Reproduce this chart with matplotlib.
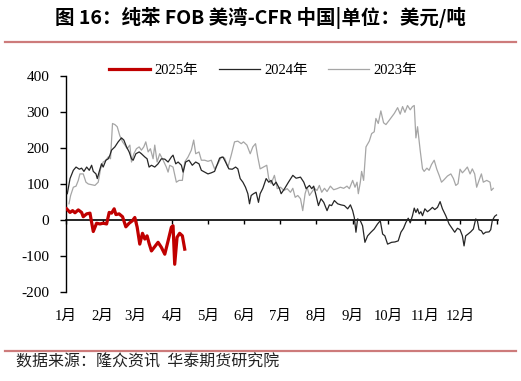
import numpy as np
import matplotlib
matplotlib.use('Agg')
import matplotlib.pyplot as plt
from matplotlib.lines import Line2D
import matplotlib.transforms as mtrans

plt.rcParams['font.family'] = ['Liberation Serif', 'Noto Sans CJK SC']
plt.rcParams['axes.unicode_minus'] = False

# 数据：日序号（从1月1日起） / 价差 美元/吨
d2025 = [0.5, 3.4, 5.6, 7.6, 10.4, 13.2, 14.6, 17.5, 20.3, 23.1, 25.9, 28.7, 31.5, 34.4,
         36.6, 38.6, 40.8, 42.3, 45, 47.9, 50.7, 53.5, 56.3, 58.3, 60.3, 62.5, 64.8, 66.8,
         68.7, 70.4, 72.4, 75.2, 78, 80.8, 83.7, 86.5, 89.3, 90.7, 92.1, 94.1, 96.3, 98.6,
         100.6]
v2025 = [31, 21, 26, 20, 28, 21, 9, 17, 19, -32, -9, -11, -9, -11,
         21, 19, 31, 15, 17, 9, -19, -9, -2, 7, -20, -67, -37, -53,
         -44, -65, -86, -74, -62, -76, -95, -58, -20, -16, -123, -48, -37, -44,
         -81]

d2024 = [1.1, 3.4, 6.2, 8.5, 11.3, 13.2, 15.2, 17.5, 19.7, 21.7, 23.1, 25.4, 26.5, 28.2,
         30.1, 31.5, 33.8, 35.8, 37.2, 38.6, 41.4, 44.2, 47, 49, 51.3, 53.5, 55.5, 56.9,
         59.2, 62, 63.9, 66.8, 68.7, 70.4, 72.4, 75.2, 78, 80.8, 83.7, 86.5, 89.3, 90.7,
         93, 95, 97.8, 99.2, 101.4, 104.2, 107, 109.9, 112.7, 114.7, 117.5, 120.3, 123.1,
         125.9, 127.9, 130.2, 133, 135.2, 138, 140.9, 143.7, 145.6, 147.6, 149.9, 152.1,
         154.1, 155.5, 156.9, 158.9, 161.1, 163.1, 164.5, 166.8, 169.6, 171.8, 173.8,
         175.8, 178, 180.9, 182.3, 185.2, 188.5, 192.2, 195, 198.7, 201.5, 203.5, 206.3,
         208.2, 209.9, 211.9, 213.9, 216.1, 218.4, 221.2, 223.2, 225.1, 227.4, 230.2,
         233, 235.9, 238.7, 241, 242.9, 244.3, 245.7, 247.1, 249.4, 251.3, 253.3, 255.6,
         258.4, 261.2, 264, 266.3, 268.3, 270.2, 272.5, 275.9, 278.7, 281.5, 283.8, 286,
         288, 290, 291.7, 293.6, 295.1, 296.5, 297.9, 299.3, 300.7, 302.1, 304.1, 306.3,
         308.6, 310.5, 312.5, 314.8, 317, 319, 321.8, 324.6, 327.5, 329.4, 331.7, 333.9,
         335.9, 337.3, 338.7, 340.7, 342.9, 345.2, 347.2, 348.6, 350, 352, 353.6, 355.6,
         358.5, 359.9, 361.2, 363.2, 364.8]
v2024 = [73, 115, 138, 147, 141, 144, 135, 147, 138, 152, 135, 128, 115, 135,
         156, 147, 166, 170, 180, 194, 203, 217, 228, 222, 203, 189, 170, 166,
         184, 189, 184, 175, 170, 147, 152, 147, 156, 170, 169, 161, 175, 180,
         156, 161, 152, 133, 161, 166, 152, 161, 156, 138, 133, 128, 131,
         135, 152, 172, 175, 161, 142, 141, 147, 142, 115, 105, 91,
         73, 45, 68, 73, 77, 49, 73, 88, 115, 105, 110,
         96, 105, 87, 73, 87, 105, 124, 116, 119, 105, 87, 96,
         87, 94, 68, 40, 59, 49, 26, 42, 40, 54, 45,
         42, 40, 31, 42, 26, 7, -34, 3, -2, -16, -62, -44,
         -34, -25, -11, -2, -39, -44, -67, -62, -61, -58, -34, -23,
         -7, 5, -8, 12, 33, 21, 31, 17, 23, 12, 31, 23,
         29, 35, 29, 35, 51, 31, 12, -11, -25, -34, -23, -27,
         -44, -72, -44, -39, -33, -25, 3, -2, -27, -30, -39, -34,
         -33, -27, -2, 10, 14]

d2023 = [2.5, 3.9, 6.2, 8.5, 10.4, 11.8, 14.6, 16.9, 18.9, 21.7, 24.5, 27.3, 29.3, 31.5,
         33.8, 35.8, 37.7, 39.4, 41.4, 43.4, 45.6, 47.9, 49.9, 51.8, 54.1, 55.5, 57.5,
         59.7, 62, 63.9, 65.9, 67.6, 69.6, 71.5, 73.8, 75.2, 77.2, 79.4, 82.3, 85, 86.5,
         87.9, 90.7, 93.5, 95.8, 98.6, 100.6, 103.4, 106.2, 108.2, 109.9, 112.7, 114.7,
         117.5, 120.3, 123.1, 125.9, 128.7, 131.6, 134.4, 137.2, 140, 142.8, 145.6, 148.5,
         150.4, 153.3, 156.1, 158.3, 160.6, 162.5, 164.5, 167.3, 170.1, 171.8, 173.8,
         176.6, 179, 181.8, 184.6, 187.4, 190.2, 192.2, 194.2, 196.4, 198.7, 200.6, 202.6,
         204.3, 206.3, 208.2, 210.5, 212.7, 214.7, 216.7, 219, 221.2, 224, 226.8, 229.7,
         232.5, 235.3, 238.1, 240.1, 242.9, 244.9, 246.6, 247.7, 249.4, 250.5, 252.2,
         254.2, 257, 259, 261.2, 262.6, 264.6, 266.8, 269.1, 271.1, 273.9, 278.2, 281,
         283.2, 285.2, 287.2, 289.4, 291.7, 293.6, 295.1, 296.5, 297.9, 300.1, 302.1,
         303.5, 305.8, 307.7, 309.7, 312, 314.2, 316.2, 318.2, 320.4, 323.2, 326.1, 328.3,
         330.3, 332.2, 333.9, 335.9, 337.9, 340.1, 342.4, 344.3, 346.3, 348, 350, 352,
         353.6, 356.5, 359.3, 360.4, 362.1]
v2023 = [45, 68, 91, 94, 110, 128, 128, 105, 100, 98, 96, 105, 142, 161,
         166, 175, 170, 268, 265, 259, 234, 217, 208, 198, 208, 161, 184,
         198, 203, 194, 203, 217, 189, 198, 170, 208, 161, 184, 166, 147, 133,
         152, 147, 105, 110, 110, 161, 175, 194, 222, 184, 189, 166,
         166, 163, 166, 142, 156, 175, 172, 147, 180, 217, 219, 212,
         217, 208, 184, 203, 212, 175, 142, 147, 152, 115, 101,
         124, 87, 91, 82, 87, 77, 88, 63, 68, 59, 26, 73,
         91, 68, 77, 88, 82, 96, 77, 88, 79, 94, 84, 87,
         91, 88, 94, 87, 110, 91, 105, 73, 105, 135, 110,
         203, 219, 240, 245, 282, 268, 303, 270, 265, 277, 296, 312,
         294, 315, 299, 318, 306, 315, 318, 228, 259, 194, 142,
         135, 144, 138, 154, 166, 141, 124, 105, 112, 122, 128, 115,
         96, 101, 141, 131, 138, 147, 128, 142, 128, 91, 110, 128,
         105, 110, 105, 82, 88]

month_start = [0, 31, 59, 90, 120, 151, 181, 212, 243, 273, 304, 334]
month_labels = ['1月', '2月', '3月', '4月', '5月', '6月', '7月', '8月', '9月', '10月', '11月', '12月']

fig = plt.figure(figsize=(5.21, 3.81), dpi=100)
ax = fig.add_axes([0.1267, 0.2336, 0.829, 0.567])

ax.plot(d2023, v2023, color='#a6a6a6', lw=0.9, label='2023年', zorder=2)
ax.plot(d2024, v2024, color='#262626', lw=0.9, label='2024年', zorder=3)
ax.plot(d2025, v2025, color='#c00000', lw=2.3, label='2025年', zorder=4)

ax.set_xlim(0, 366)
ax.set_ylim(-200, 400)
ax.set_yticks([-200, -100, 0, 100, 200, 300, 400])
for s in ['top', 'right']:
    ax.spines[s].set_visible(False)
ax.spines['bottom'].set_position(('data', 0))
ax.spines['bottom'].set_linewidth(1.2)
ax.spines['left'].set_linewidth(1.0)
ax.set_xticks(month_start + [365])
ax.set_xticklabels([])
ax.tick_params(axis='x', direction='out', length=3, width=1.0)
ax.tick_params(axis='y', direction='out', length=4, width=1.0, pad=8, labelsize=11)

trans = mtrans.blended_transform_factory(ax.transData, ax.transAxes)
for m, lbl in zip(month_start, month_labels):
    ax.text(m, -0.112, lbl, transform=trans, ha='center', va='center', fontsize=10.5)

handles = [Line2D([], [], color='#c00000', lw=2.3),
           Line2D([], [], color='#262626', lw=0.9),
           Line2D([], [], color='#a6a6a6', lw=0.9)]
fig.legend(handles, ['2025年', '2024年', '2023年'], loc='center', ncol=3,
           bbox_to_anchor=(0.505, 0.816), frameon=False, fontsize=10.5,
           handlelength=2.8, handletextpad=0.3, columnspacing=1.4)

fig.text(0.5, 1 - 18 / 381, '图 16：纯苯 FOB 美湾-CFR 中国|单位：美元/吨',
         ha='center', va='center', fontsize=14, fontweight='bold',
         family=['Noto Sans CJK SC', 'DejaVu Sans'])
fig.add_artist(Line2D([5 / 521, 516 / 521], [1 - 42 / 381] * 2, color='#cd7b7b', lw=1.6))
fig.add_artist(Line2D([5 / 521, 516 / 521], [1 - 351 / 381] * 2, color='#cd7b7b', lw=1.6))
fig.text(16 / 521, 1 - 362 / 381, '数据来源：隆众资讯  华泰期货研究院',
         ha='left', va='center', fontsize=11.5, color='#222222',
         family=['Noto Sans CJK SC', 'DejaVu Sans'])

fig.savefig('out.png', dpi=100)
